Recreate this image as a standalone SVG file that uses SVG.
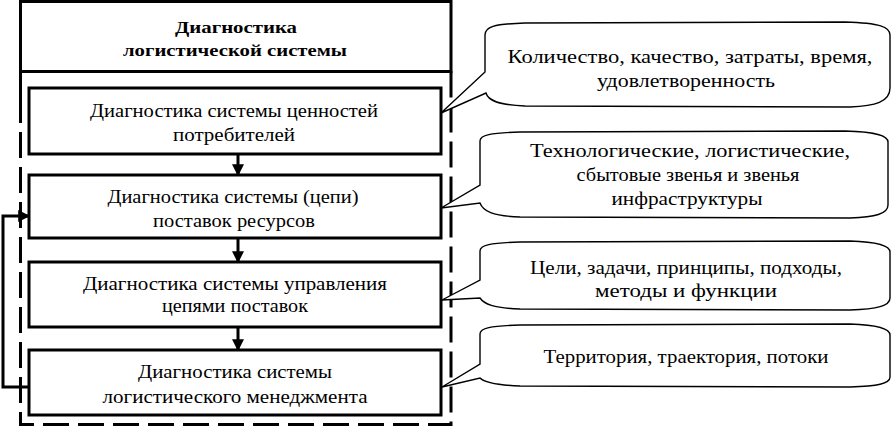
<svg xmlns="http://www.w3.org/2000/svg" width="893" height="427" viewBox="0 0 893 427">
<style>
text{font-family:"Liberation Serif","DejaVu Serif","Times New Roman",serif;font-size:18px;fill:#000;text-anchor:middle}
.b{font-weight:bold;font-size:17px}
.box{fill:#fff;stroke:#000;stroke-width:3}
.frame{fill:none;stroke:#000;stroke-width:3}
.call{fill:#fff;stroke:#000;stroke-width:1.4;stroke-linejoin:miter}
.con{fill:none;stroke:#000;stroke-width:3}
</style>
<defs>
<marker id="ah" markerWidth="4" markerHeight="4" refX="3.6" refY="2" orient="auto" markerUnits="strokeWidth">
<path d="M0,0 L4,2 L0,4 Z" fill="#000"/>
</marker>
</defs>
<g id="frame">
<rect class="frame" x="20.5" y="1.5" width="430.5" height="70"/>
<path class="frame" d="M20.5,71 V97 M451,71 V97"/>
<path class="frame" d="M20.5,97 V424.5 H451 V97" stroke-dasharray="26 9"/>
</g>
<g id="title">
<text class="b" x="236" y="33" textLength="122" lengthAdjust="spacingAndGlyphs">Диагностика</text>
<text class="b" x="235" y="56" textLength="224" lengthAdjust="spacingAndGlyphs">логистической системы</text>
</g>
<g id="box1">
<rect class="box" x="29" y="88" width="412" height="66"/>
<text x="234" y="117" textLength="288" lengthAdjust="spacingAndGlyphs">Диагностика системы ценностей</text>
<text x="234" y="141" textLength="122" lengthAdjust="spacingAndGlyphs">потребителей</text>
</g>
<g id="box2">
<rect class="box" x="29" y="175" width="412" height="63"/>
<text x="233" y="203" textLength="251" lengthAdjust="spacingAndGlyphs">Диагностика системы (цепи)</text>
<text x="234" y="227" textLength="162" lengthAdjust="spacingAndGlyphs">поставок ресурсов</text>
</g>
<g id="box3">
<rect class="box" x="29" y="262" width="412" height="65"/>
<text x="235" y="290" textLength="304" lengthAdjust="spacingAndGlyphs">Диагностика системы управления</text>
<text x="235" y="312" textLength="146" lengthAdjust="spacingAndGlyphs">цепями поставок</text>
</g>
<g id="box4">
<rect class="box" x="29" y="350" width="412" height="65"/>
<text x="235" y="378" textLength="194" lengthAdjust="spacingAndGlyphs">Диагностика системы</text>
<text x="235" y="403" textLength="265" lengthAdjust="spacingAndGlyphs">логистического менеджмента</text>
</g>
<g id="connectors">
<path class="con" d="M238,154 V175" marker-end="url(#ah)"/>
<path class="con" d="M238,238 V262" marker-end="url(#ah)"/>
<path class="con" d="M238,327 V350" marker-end="url(#ah)"/>
<path class="con" d="M29,387 H3 V216 H29" marker-end="url(#ah)"/>
</g>
<g id="callout1">
<path class="call" d="M485,35 C485,27 493,24 525,23 L845,22 C880,23 890,27 890,35 L890,88 C890,102 875,106 850,107 L525,106 C497,105 488,100 486,93 L441,113 L485,72 Z"/>
<text x="690" y="63" textLength="365" lengthAdjust="spacingAndGlyphs">Количество, качество, затраты, время,</text>
<text x="686" y="87" textLength="178" lengthAdjust="spacingAndGlyphs">удовлетворенность</text>
</g>
<g id="callout2">
<path class="call" d="M480,141 C480,135 490,133 520,132 L845,131 C878,132 888,136 888,142 L888,205 C888,214 875,217 850,218 L520,217 C492,216 483,211 480,203 L441,208 L480,185 Z"/>
<text x="690" y="157" textLength="320" lengthAdjust="spacingAndGlyphs">Технологические, логистические,</text>
<text x="688" y="181" textLength="223" lengthAdjust="spacingAndGlyphs">сбытовые звенья и звенья</text>
<text x="687" y="205" textLength="151" lengthAdjust="spacingAndGlyphs">инфраструктуры</text>
</g>
<g id="callout3">
<path class="call" d="M480,251 C480,245 490,243 520,242 L850,241 C880,242 890,246 890,252 L890,298 C890,306 877,309 850,310 L520,309 C493,308 484,304 480,298 L442,300 L480,280 Z"/>
<text x="686" y="274" textLength="312" lengthAdjust="spacingAndGlyphs">Цели, задачи, принципы, подходы,</text>
<text x="686" y="297" textLength="182" lengthAdjust="spacingAndGlyphs">методы и функции</text>
</g>
<g id="callout4">
<path class="call" d="M480,334 C480,328 490,326 520,325 L850,324 C880,325 890,329 890,335 L890,377 C890,384 877,386 850,387 L520,386 C494,385 484,382 480,378 L442,387 L480,364 Z"/>
<text x="686" y="363" textLength="285" lengthAdjust="spacingAndGlyphs">Территория, траектория, потоки</text>
</g>
</svg>
